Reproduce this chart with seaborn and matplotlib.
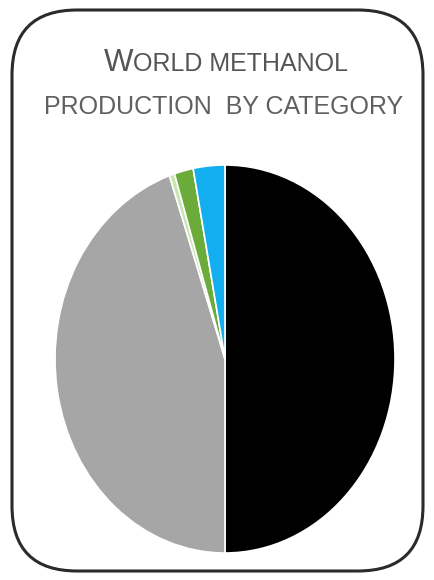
import matplotlib
matplotlib.use("Agg")
import matplotlib.pyplot as plt
import seaborn as sns
from matplotlib.patches import FancyBboxPatch
from matplotlib.offsetbox import TextArea, HPacker, AnchoredOffsetbox

sns.set_style("white")
plt.rcParams['font.family'] = ['Liberation Sans', 'DejaVu Sans']

categories = ["Category A", "Category B", "Category C", "Category D", "Category E"]
values = [50.0, 44.7, 0.5, 1.8, 3.0]
colors = ["#000000", "#a6a6a6", "#c9e6b0", "#6aab3a", "#12aef0"]
title_line1 = [("W", True), ("ORLD METHANOL", False)]
title_line2 = "PRODUCTION  BY CATEGORY"

fig = plt.figure(figsize=(4.34, 5.80), dpi=100)

# rounded border
border = FancyBboxPatch((12/434, 9/580), 411/434, 561/580,
                        boxstyle="round,pad=0,rounding_size=0.15",
                        transform=fig.transFigure, fill=False,
                        edgecolor="#2b2b2b", linewidth=2.2, mutation_aspect=434/580)
fig.patches.append(border)

ax = fig.add_axes([55/434, (580-553)/580, 340/434, 388/580])
ax.pie(values, colors=colors, startangle=90, counterclock=False,
       wedgeprops=dict(edgecolor="white", linewidth=1.2))
ax.set_aspect("auto")
ax.set_xlim(-1.0, 1.0)
ax.set_ylim(-1.0, 1.0)
ax.axis("off")

tc = "#555555"
boxes = [TextArea(txt, textprops=dict(color=tc, fontsize=22.5 if big else 18))
         for txt, big in title_line1]
pack = HPacker(children=boxes, align="baseline", pad=0, sep=0)
ab = AnchoredOffsetbox(loc="center", child=pack, frameon=False,
                       bbox_to_anchor=(226/434, 1 - 63/580), bbox_transform=fig.transFigure,
                       pad=0, borderpad=0)
fig.add_artist(ab)

fig.text(224/434, 1 - 114/580, title_line2, ha="center", va="baseline",
         fontsize=18, color="#606060")

fig.savefig("out.png", dpi=100)
